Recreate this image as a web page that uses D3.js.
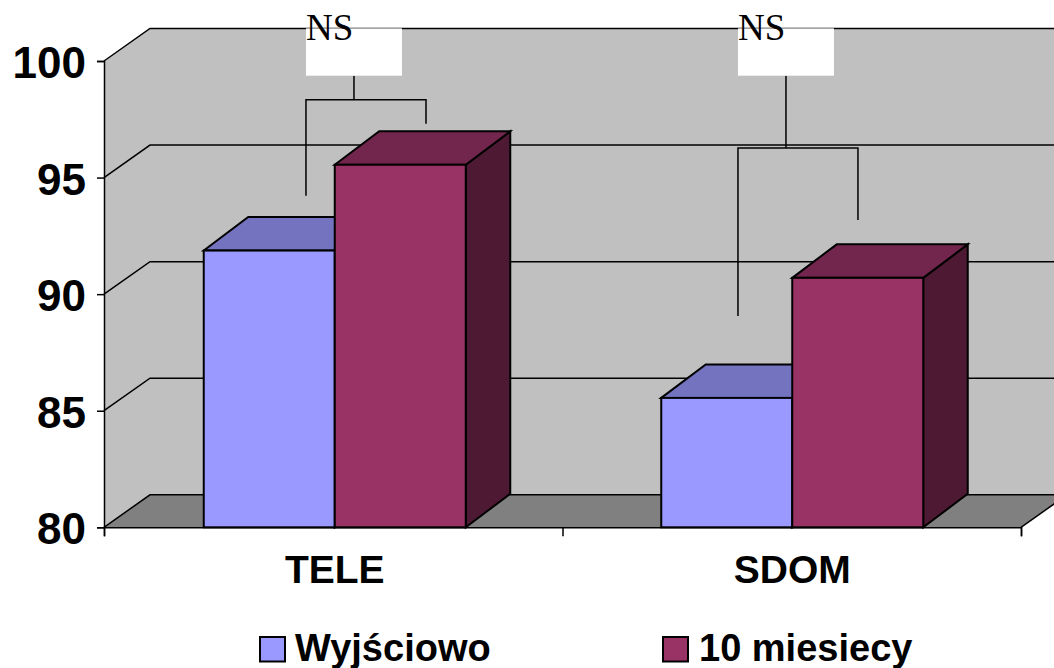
<!DOCTYPE html>
<html>
<head>
<meta charset="utf-8">
<title>TELE / SDOM</title>
<script src="https://cdnjs.cloudflare.com/ajax/libs/d3/7.8.5/d3.min.js"></script>
<style>
  html, body { margin: 0; padding: 0; background: #fff; overflow: hidden; }
  svg { display: block; }
  text { font-family: "Liberation Sans", Arial, sans-serif; font-weight: bold; fill: #000; }
  .ns { font-family: "Liberation Serif", "Times New Roman", serif; font-weight: normal; }
</style>
</head>
<body>
<svg id="chart" width="1054" height="668"></svg>
<script>
// Chart values
const categories = ["TELE", "SDOM"];
const seriesNames = ["Wyjściowo", "10 miesiecy"];
const baseline = [91.87, 85.55];
const afterTenMonths = [95.55, 90.7];
const yTicks = [80, 85, 90, 95, 100];

// Significance brackets: x is in category units (0–2 across the floor), y in axis units
const brackets = [
  { label: "NS", left: 0.4405, right: 0.7023, stem: 0.5452, bar: 98.34, leftEnd: 94.22, rightEnd: 97.31 },
  { label: "NS", left: 1.3827, right: 1.6444, stem: 1.4874, bar: 96.27, leftEnd: 89.06, rightEnd: 93.18 }
];
const labelBoxTop = 101.4;
const labelBoxBottom = 99.37;
const labelBoxWidth = 0.2094;

// Plot frame and the oblique offset that gives the chart its depth
const plot = { left: 104, right: 1021, top: 61, bottom: 527.3 };
const wallDepth = { dx: 46, dy: 32.5 };
const barDepth = { dx: 44.5, dy: 33.5 };
const lineWidth = 1.5;

const palette = {
  wall: "#c0c0c0",
  floor: "#808080",
  series: [
    { front: "#9999ff", top: "#7373bf", side: "#4d4d80" },
    { front: "#993366", top: "#73264d", side: "#4d1933" }
  ]
};

const svg = d3.select("#chart");
const y = d3.scaleLinear().domain([80, 100]).range([plot.bottom, plot.top]);
const xPos = d3.scaleLinear().domain([0, 2]).range([plot.left, plot.right]);

const groupPad = 0.4273;
const x0 = d3.scaleBand().domain(categories).range([106, plot.right])
  .paddingInner(groupPad).paddingOuter(groupPad / 2);
const x1 = d3.scaleBand().domain(seriesNames).range([0, x0.bandwidth()]);

const poly = pts => pts.map(p => p.join(",")).join(" ");

// Side wall, back wall and floor
svg.append("polygon")
  .attr("points", poly([
    [plot.left, plot.top],
    [plot.left + wallDepth.dx, plot.top - wallDepth.dy],
    [plot.right + wallDepth.dx, plot.top - wallDepth.dy],
    [plot.right + wallDepth.dx, plot.bottom - wallDepth.dy],
    [plot.right, plot.bottom],
    [plot.left, plot.bottom]
  ]))
  .attr("fill", palette.wall);

svg.append("polygon")
  .attr("points", poly([
    [plot.left, plot.bottom],
    [plot.left + wallDepth.dx, plot.bottom - wallDepth.dy],
    [plot.right + wallDepth.dx, plot.bottom - wallDepth.dy],
    [plot.right, plot.bottom]
  ]))
  .attr("fill", palette.floor);

// Gridlines run along the side wall and across the back wall
svg.append("g").selectAll("polyline")
  .data(yTicks)
  .join("polyline")
  .attr("points", d => poly([
    [plot.left, y(d)],
    [plot.left + wallDepth.dx, y(d) - wallDepth.dy],
    [plot.right + wallDepth.dx, y(d) - wallDepth.dy]
  ]))
  .attr("fill", "none")
  .attr("stroke", "#000")
  .attr("stroke-width", lineWidth);

// Front edge of the floor on its right-hand corner
svg.append("line")
  .attr("x1", plot.right).attr("y1", plot.bottom)
  .attr("x2", plot.right + wallDepth.dx).attr("y2", plot.bottom - wallDepth.dy)
  .attr("stroke", "#000").attr("stroke-width", lineWidth);

// Axes
const yAxis = svg.append("g")
  .attr("transform", `translate(${plot.left},0)`)
  .call(d3.axisLeft(y).tickValues(yTicks).tickSize(7).tickPadding(11));
yAxis.select(".domain").attr("stroke", "#000").attr("stroke-width", lineWidth);
yAxis.selectAll(".tick line").attr("stroke", "#000").attr("stroke-width", lineWidth);
yAxis.selectAll(".tick text")
  .attr("font-size", 44)
  .attr("dy", "0.375em")
  .style("font-family", '"Liberation Sans", Arial, sans-serif')
  .style("font-weight", "bold");

// Extruded bars, drawn left to right so each one covers its neighbour's side face
const seriesValues = [baseline, afterTenMonths];
const bars = categories.flatMap((c, i) =>
  seriesNames.map((s, j) => ({ category: c, series: s, seriesIndex: j, value: seriesValues[j][i] })));

const barGroups = svg.append("g").selectAll("g")
  .data(bars)
  .join("g")
  .attr("stroke", "#000")
  .attr("stroke-width", 2)
  .attr("stroke-linejoin", "miter");

barGroups.each(function (d) {
  const g = d3.select(this);
  const colours = palette.series[d.seriesIndex];
  const xl = x0(d.category) + x1(d.series);
  const xr = xl + x1.bandwidth();
  const yt = y(d.value);
  const yb = y(80);
  g.append("polygon").attr("fill", colours.side).attr("points", poly([
    [xr, yt], [xr + barDepth.dx, yt - barDepth.dy], [xr + barDepth.dx, yb - barDepth.dy], [xr, yb]
  ]));
  g.append("polygon").attr("fill", colours.top).attr("points", poly([
    [xl, yt], [xl + barDepth.dx, yt - barDepth.dy], [xr + barDepth.dx, yt - barDepth.dy], [xr, yt]
  ]));
  g.append("rect").attr("fill", colours.front)
    .attr("x", xl).attr("y", yt).attr("width", xr - xl).attr("height", yb - yt);
});

// Baseline and category ticks sit over the bar feet
const xAxis = svg.append("g")
  .attr("transform", `translate(0,${plot.bottom})`)
  .call(d3.axisBottom(xPos).tickValues([0, 1, 2]).tickSize(9).tickFormat(""));
xAxis.select(".domain").attr("stroke", "#000").attr("stroke-width", lineWidth);
xAxis.selectAll(".tick line").attr("stroke", "#000").attr("stroke-width", lineWidth);

svg.append("g").selectAll("text")
  .data(categories)
  .join("text")
  .attr("x", d => x0(d) + x0.bandwidth() / 2)
  .attr("y", 583)
  .attr("text-anchor", "middle")
  .attr("font-size", 39)
  .text(d => d);

// Brackets with their white label boxes
const bracketGroups = svg.append("g").selectAll("g")
  .data(brackets)
  .join("g");

bracketGroups.append("path")
  .attr("fill", "none")
  .attr("stroke", "#000")
  .attr("stroke-width", lineWidth)
  .attr("d", d => {
    const path = d3.path();
    path.moveTo(xPos(d.left), y(d.leftEnd));
    path.lineTo(xPos(d.left), y(d.bar));
    path.lineTo(xPos(d.right), y(d.bar));
    path.lineTo(xPos(d.right), y(d.rightEnd));
    path.moveTo(xPos(d.stem), y(labelBoxBottom));
    path.lineTo(xPos(d.stem), y(d.bar));
    return path.toString();
  });

bracketGroups.append("rect")
  .attr("fill", "#fff")
  .attr("x", d => xPos(d.left))
  .attr("y", y(labelBoxTop))
  .attr("width", xPos(labelBoxWidth) - xPos(0))
  .attr("height", y(labelBoxBottom) - y(labelBoxTop));

bracketGroups.append("text")
  .attr("class", "ns")
  .attr("x", d => xPos(d.left))
  .attr("y", 39.5)
  .attr("font-size", 37)
  .text(d => d.label);

// Legend
const legendEntries = [
  { x: 260, textX: 295 },
  { x: 663, textX: 699 }
];
const legend = svg.append("g").selectAll("g")
  .data(seriesNames)
  .join("g");

legend.append("rect")
  .attr("x", (d, i) => legendEntries[i].x)
  .attr("y", 637)
  .attr("width", 25)
  .attr("height", 24.5)
  .attr("fill", (d, i) => palette.series[i].front)
  .attr("stroke", "#000")
  .attr("stroke-width", 2);

legend.append("text")
  .attr("x", (d, i) => legendEntries[i].textX)
  .attr("y", 661)
  .attr("font-size", 38)
  .text(d => d);
</script>
</body>
</html>
